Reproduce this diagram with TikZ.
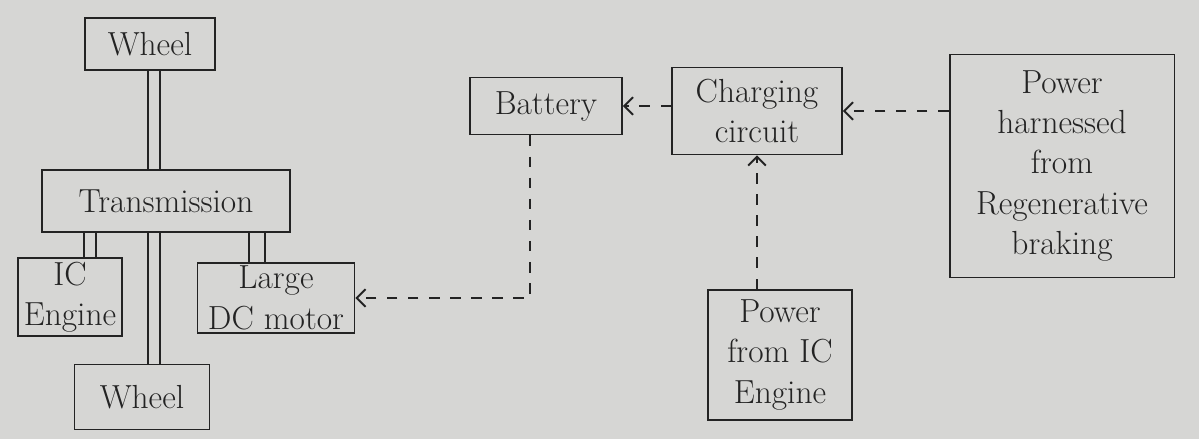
\documentclass[tikz,border=0pt]{standalone}
\usepackage{xcolor}
\usetikzlibrary{positioning}
\usetikzlibrary{arrows.meta}

\definecolor{paper}{RGB}{214,214,212}
\definecolor{ink}{RGB}{35,35,35}

\begin{document}
\begin{tikzpicture}[x=0.02cm,y=-0.02cm,
    part/.style={draw=ink,text=ink,line width=1.1pt,inner sep=2pt,align=center,
                 font=\fontsize{19}{23}\selectfont},
    shaft/.style={draw=ink,line width=1.1pt,double=paper,double distance=6pt},
    flow/.style={draw=ink,line width=1.1pt,dash pattern=on 6pt off 6pt,
                 -{Straight Barb[length=5pt,width=10pt]}}]
    % paper
    \fill[paper] (0,0) rectangle (1199,439);
    \useasboundingbox (0,0) rectangle (1199,439);
    % drive train
    \node[part,minimum width=2.6cm,minimum height=1.04cm] (wheelTop) at (150,44) {Wheel};
    \node[part,minimum width=4.96cm,minimum height=1.24cm] (trans) at (166,201) {Transmission};
    \node[part,minimum width=2.08cm,minimum height=1.3cm] (ice) at (70,297) {IC\\Engine};
    \node[part,minimum width=3.14cm,minimum height=1.34cm] (dcm) at (276,298) {Large\\DC motor};
    \node[part,minimum width=2.7cm,minimum height=1.3cm] (wheelBot) at (142,397) {Wheel};
    % electrical side
    \node[part,minimum width=3.04cm,minimum height=1.14cm] (batt) at (546,106) {Battery};
    \node[part,minimum width=3.4cm,minimum height=1.74cm] (charge) at (757,111) {Charging\\circuit};
    \node[part,minimum width=4.5cm,minimum height=4.46cm] (regen) at (1062,166)
        {Power\\harnessed\\from\\Regenerative\\braking};
    \node[part,minimum width=2.88cm,minimum height=2.6cm] (icpow) at (780,355) {Power\\from IC\\Engine};
    % mechanical links
    \draw[shaft] ([xshift=0.08cm]wheelTop.south) -- ([xshift=0.08cm]wheelTop.south |- trans.north);
    \draw[shaft] ([xshift=0.08cm]wheelTop.south |- trans.south) -- ([xshift=0.08cm]wheelTop.south |- wheelBot.north);
    \draw[shaft] ([xshift=0.4cm]ice.north) -- ([xshift=0.4cm]ice.north |- trans.south);
    \draw[shaft,double distance=8pt] ([xshift=-0.38cm]dcm.north) -- ([xshift=-0.38cm]dcm.north |- trans.south);
    % power flow
    \draw[flow] ([xshift=-0.32cm]batt.south) |- (dcm.east);
    \draw[flow] (charge.west |- batt.east) -- (batt.east);
    \draw[flow] (regen.west |- charge.east) -- (charge.east);
    \draw[flow] (icpow.north -| charge.south) -- (charge.south);
\end{tikzpicture}
\end{document}
